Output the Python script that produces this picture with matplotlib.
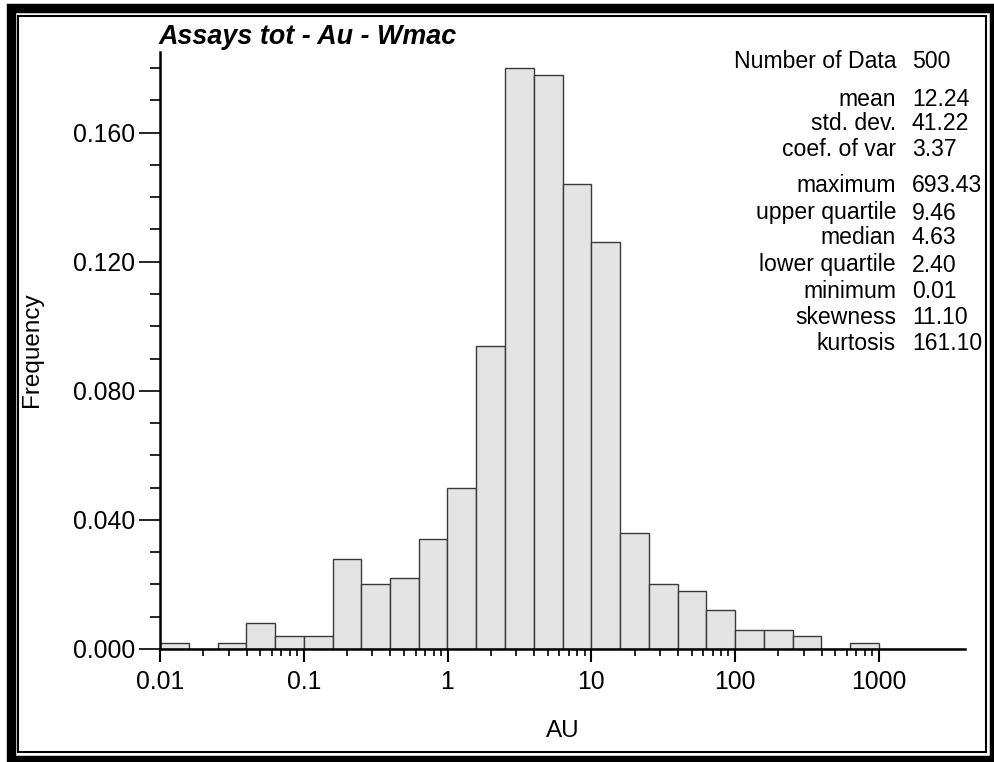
import numpy as np
import matplotlib.pyplot as plt
from matplotlib.patches import Rectangle
from matplotlib.ticker import FixedLocator, NullFormatter

plt.rcParams['font.family'] = ['Liberation Sans', 'DejaVu Sans']

# histogram: 5 bins per decade from 0.01 up to 10^3.6
bin_edges = np.logspace(-2, 3.6, 29)
freq = [0.002, 0.000, 0.002, 0.008, 0.004, 0.004, 0.028, 0.020, 0.022, 0.034,
        0.050, 0.094, 0.180, 0.178, 0.144, 0.126, 0.036, 0.020, 0.018, 0.012,
        0.006, 0.006, 0.004, 0.000, 0.002, 0.000, 0.000, 0.000]

x_major = [0.01, 0.1, 1, 10, 100, 1000]
x_labels = ["0.01", "0.1", "1", "10", "100", "1000"]
y_major = [0.0, 0.04, 0.08, 0.12, 0.16]
y_labels = ["0.000", "0.040", "0.080", "0.120", "0.160"]

stat_names = ["Number of Data", "mean", "std. dev.", "coef. of var",
              "maximum", "upper quartile", "median", "lower quartile",
              "minimum", "skewness", "kurtosis"]
stat_values = ["500", "12.24", "41.22", "3.37", "693.43", "9.46", "4.63",
               "2.40", "0.01", "11.10", "161.10"]
stat_rows_px = [62, 99, 124, 150, 186, 213, 238, 265, 291, 317, 343]

W, H = 994, 762
fig = plt.figure(figsize=(W / 100, H / 100), dpi=100)

# double frame round the picture (thick outer band, thin inner line)
fig.patches.append(Rectangle((11 / W, 2 / H), 1 - 11 / W, 1 - 10 / H, transform=fig.transFigure,
                             fill=False, edgecolor='black', linewidth=6.8))
fig.patches.append(Rectangle((18 / W, 10 / H), 1 - 26 / W, 1 - 26 / H, transform=fig.transFigure,
                             fill=False, edgecolor='black', linewidth=1.5))

ax = fig.add_axes([160 / W, 1 - 649 / H, (965 - 160) / W, (649 - 52) / H])
widths = np.diff(bin_edges)
ax.bar(bin_edges[:-1], freq, width=widths, align='edge',
       color='#e4e4e4', edgecolor='#3a3a3a', linewidth=1.0)
ax.set_xscale('log')
ax.set_xlim(0.01, bin_edges[-1])
ax.set_ylim(0, 0.185)

for s in ['top', 'right']:
    ax.spines[s].set_visible(False)
for s in ['left', 'bottom']:
    ax.spines[s].set_linewidth(1.8)

ax.xaxis.set_major_locator(FixedLocator(x_major))
ax.set_xticklabels(x_labels)
minor_x = [m * d for d in x_major[:-1] for m in range(2, 10)]
ax.xaxis.set_minor_locator(FixedLocator(minor_x))
ax.xaxis.set_minor_formatter(NullFormatter())

ax.yaxis.set_major_locator(FixedLocator(y_major))
ax.set_yticklabels(y_labels)
ax.yaxis.set_minor_locator(FixedLocator(np.arange(0, 0.181, 0.01)))

ax.tick_params(axis='x', which='major', length=9, width=1.5, labelsize=17.8, pad=6)
ax.tick_params(axis='x', which='minor', length=5, width=1.2)
ax.tick_params(axis='y', which='major', length=15, width=1.2, labelsize=17.8, pad=3)
ax.tick_params(axis='y', which='minor', length=7, width=1.2)

fig.text(563 / W, 1 - 731 / H, "AU", fontsize=17.5, ha='center', va='center')
fig.text(32 / W, 1 - 350 / H, "Frequency", fontsize=17.5, rotation=90,
         ha='center', va='center')

fig.text(159 / W, 1 - 37 / H, "Assays tot - Au - Wmac", fontsize=19.4,
         fontweight='bold', fontstyle='italic', ha='left', va='center')

for name, val, y in zip(stat_names, stat_values, stat_rows_px):
    fig.text(896 / W, 1 - y / H, name, fontsize=16.6, ha='right', va='center')
    fig.text(912 / W, 1 - y / H, val, fontsize=16.6, ha='left', va='center')

fig.savefig("out.png", dpi=100)
